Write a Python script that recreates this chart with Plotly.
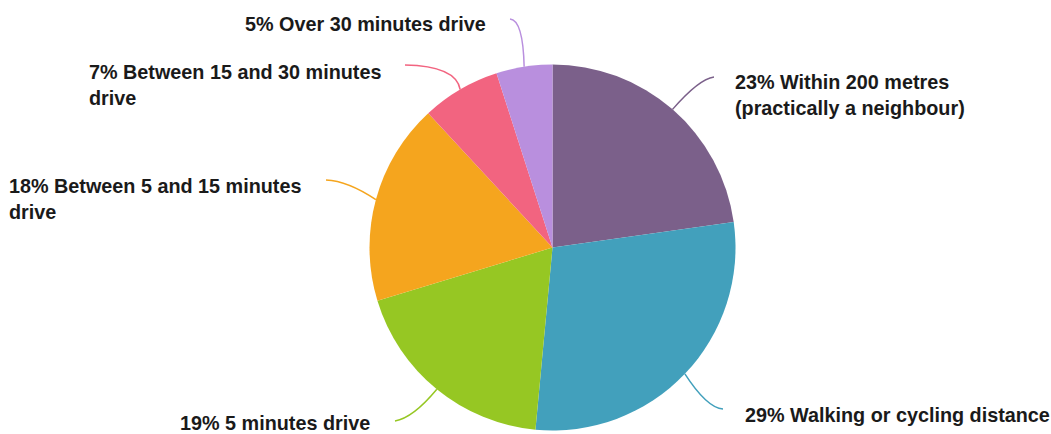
import math
import plotly.graph_objects as go

W, H = 1051, 434

# Survey shares, clockwise from 12 o'clock
categories = [
    "Within 200 metres<br>(practically a neighbour)",
    "Walking or cycling distance",
    "5 minutes drive",
    "Between 5 and 15 minutes<br>drive",
    "Between 15 and 30 minutes<br>drive",
    "Over 30 minutes drive",
]
shares = [23, 29, 19, 18, 7, 5]
colors = ["#7B608A", "#42A0BC", "#96C723", "#F5A51E", "#F26480", "#B98FDE"]

# Pie geometry in pixels
CX, CY, R = 552.5, 247.5, 183.0

# Label placement: (anchor x, anchor y, xanchor, leader end, leader control point)
label_layout = [
    (733, 94.5, "left", (714, 77), (699, 79)),
    (743, 415, "left", (723, 409), (707, 408)),
    (372, 423, "right", (395, 421), (413, 418)),
    (303, 198.5, "right", (326, 180), (348, 181)),
    (383, 85, "right", (405, 65), (456, 66)),
    (488, 24, "right", (510, 19), (523, 20)),
]


def px(x, y):
    return x / W, 1 - y / H


fig = go.Figure(
    go.Pie(
        values=shares,
        labels=categories,
        marker=dict(colors=colors, line=dict(width=0)),
        sort=False,
        direction="clockwise",
        rotation=0,
        textinfo="none",
        hoverinfo="label+percent",
        showlegend=False,
        domain=dict(
            x=[(CX - R) / W, (CX + R) / W],
            y=[1 - (CY + R) / H, 1 - (CY - R) / H],
        ),
    )
)

total = sum(shares)
cum = 0
shapes, annotations = [], []
for share, name, color, (ax, ay, xanc, end, ctrl) in zip(shares, categories, colors, label_layout):
    mid = (cum + share / 2) / total * 2 * math.pi
    cum += share
    sx = CX + R * math.sin(mid)
    sy = CY - R * math.cos(mid)
    p0, p1, p2 = px(sx, sy), px(*ctrl), px(*end)
    shapes.append(dict(
        type="path", xref="paper", yref="paper",
        path=f"M {p0[0]:.5f},{p0[1]:.5f} Q {p1[0]:.5f},{p1[1]:.5f} {p2[0]:.5f},{p2[1]:.5f}",
        line=dict(color=color, width=1.5),
    ))
    tx, ty = px(ax, ay)
    annotations.append(dict(
        x=tx, y=ty, xref="paper", yref="paper",
        xanchor=xanc, yanchor="middle", align="left",
        text=f"<b>{share}% {name}</b>", showarrow=False,
        font=dict(family="Liberation Sans, Arial, sans-serif", size=19.8, color="#1a1a1a"),
    ))

fig.update_layout(
    width=W, height=H,
    margin=dict(l=0, r=0, t=0, b=0),
    paper_bgcolor="white", plot_bgcolor="white",
    shapes=shapes, annotations=annotations,
)

fig.write_html("out.html")
